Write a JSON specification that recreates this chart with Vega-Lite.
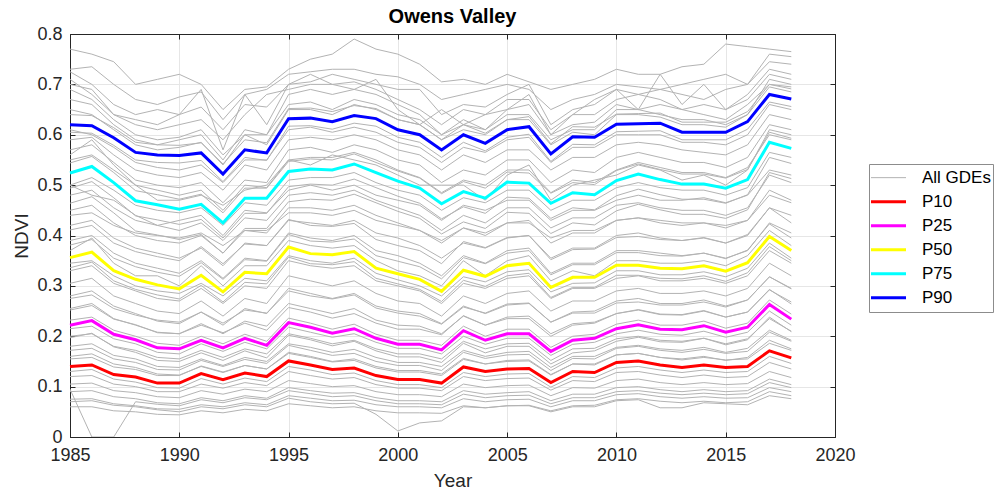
{
  "$schema": "https://vega.github.io/schema/vega-lite/v6.json",
  "width": 765,
  "height": 403,
  "autosize": {"type": "none"},
  "padding": {"left": 70, "top": 34, "right": 163, "bottom": 58},
  "background": "white",
  "title": {"text": "Owens Valley", "font": "Liberation Sans", "fontSize": 20, "fontWeight": "bold", "color": "black", "anchor": "middle", "offset": -2},
  "config": {
    "view": {"stroke": "#262626", "strokeWidth": 1},
    "axis": {"labelFont": "Liberation Sans", "labelFontSize": 18, "labelColor": "#262626", "labelFlush": false, "titleFont": "Liberation Sans", "titleFontSize": 19, "titleFontWeight": "normal", "titleColor": "#262626", "domainColor": "#262626", "tickColor": "#262626", "gridColor": "#e6e6e6", "grid": true},
    "legend": {"labelFont": "Liberation Sans", "labelFontSize": 17, "labelColor": "black"}
  },
  "datasets": {
    "pct": [
      {"year":1985,"P10":0.140,"P25":0.222,"P50":0.356,"P75":0.524,"P90":0.620},
      {"year":1986,"P10":0.143,"P25":0.231,"P50":0.367,"P75":0.537,"P90":0.618},
      {"year":1987,"P10":0.124,"P25":0.204,"P50":0.330,"P75":0.505,"P90":0.594},
      {"year":1988,"P10":0.119,"P25":0.193,"P50":0.313,"P75":0.469,"P90":0.565},
      {"year":1989,"P10":0.107,"P25":0.177,"P50":0.302,"P75":0.461,"P90":0.560},
      {"year":1990,"P10":0.107,"P25":0.175,"P50":0.294,"P75":0.452,"P90":0.559},
      {"year":1991,"P10":0.126,"P25":0.192,"P50":0.321,"P75":0.462,"P90":0.564},
      {"year":1992,"P10":0.114,"P25":0.177,"P50":0.288,"P75":0.425,"P90":0.522},
      {"year":1993,"P10":0.127,"P25":0.196,"P50":0.327,"P75":0.474,"P90":0.570},
      {"year":1994,"P10":0.120,"P25":0.182,"P50":0.324,"P75":0.474,"P90":0.564},
      {"year":1995,"P10":0.151,"P25":0.227,"P50":0.377,"P75":0.527,"P90":0.632},
      {"year":1996,"P10":0.143,"P25":0.218,"P50":0.364,"P75":0.532,"P90":0.633},
      {"year":1997,"P10":0.134,"P25":0.206,"P50":0.362,"P75":0.530,"P90":0.626},
      {"year":1998,"P10":0.137,"P25":0.215,"P50":0.368,"P75":0.542,"P90":0.638},
      {"year":1999,"P10":0.122,"P25":0.196,"P50":0.335,"P75":0.525,"P90":0.632},
      {"year":2000,"P10":0.114,"P25":0.184,"P50":0.324,"P75":0.508,"P90":0.610},
      {"year":2001,"P10":0.114,"P25":0.184,"P50":0.313,"P75":0.494,"P90":0.600},
      {"year":2002,"P10":0.107,"P25":0.173,"P50":0.289,"P75":0.463,"P90":0.570},
      {"year":2003,"P10":0.139,"P25":0.211,"P50":0.331,"P75":0.487,"P90":0.600},
      {"year":2004,"P10":0.130,"P25":0.192,"P50":0.319,"P75":0.474,"P90":0.583},
      {"year":2005,"P10":0.135,"P25":0.205,"P50":0.340,"P75":0.506,"P90":0.610},
      {"year":2006,"P10":0.136,"P25":0.205,"P50":0.345,"P75":0.504,"P90":0.616},
      {"year":2007,"P10":0.108,"P25":0.170,"P50":0.297,"P75":0.464,"P90":0.562},
      {"year":2008,"P10":0.130,"P25":0.192,"P50":0.317,"P75":0.485,"P90":0.596},
      {"year":2009,"P10":0.128,"P25":0.196,"P50":0.317,"P75":0.481,"P90":0.595},
      {"year":2010,"P10":0.148,"P25":0.215,"P50":0.341,"P75":0.509,"P90":0.621},
      {"year":2011,"P10":0.151,"P25":0.223,"P50":0.341,"P75":0.522,"P90":0.622},
      {"year":2012,"P10":0.143,"P25":0.214,"P50":0.335,"P75":0.511,"P90":0.623},
      {"year":2013,"P10":0.138,"P25":0.213,"P50":0.334,"P75":0.502,"P90":0.605},
      {"year":2014,"P10":0.143,"P25":0.221,"P50":0.340,"P75":0.502,"P90":0.605},
      {"year":2015,"P10":0.138,"P25":0.208,"P50":0.329,"P75":0.494,"P90":0.605},
      {"year":2016,"P10":0.140,"P25":0.218,"P50":0.346,"P75":0.511,"P90":0.626},
      {"year":2017,"P10":0.171,"P25":0.263,"P50":0.398,"P75":0.585,"P90":0.680},
      {"year":2018,"P10":0.157,"P25":0.234,"P50":0.370,"P75":0.573,"P90":0.671}
    ],
    "gray": [
      {"series":"All GDEs","year":1985,"g1":0.770,"g2":0.730,"g3":0.725,"g4":0.700,"g5":0.690,"g6":0.670,"g7":0.650,"g8":0.710,"g9":0.590,"g10":0.570,"g11":0.550,"g12":0.610,"g13":0.500,"g14":0.480,"g15":0.450,"g16":0.420,"g17":0.390,"g18":0.500,"g19":0.330,"g20":0.305,"g21":0.280,"g22":0.255,"g23":0.345,"g24":0.200,"g25":0.180,"g26":0.160,"g27":0.215,"g28":0.120,"g29":0.105,"g30":0.090,"g31":0.075,"g32":0.060,"g33":0.095,"g34":0.070,"g35":0.155,"g36":0.130,"g37":0.252,"g38":0.197,"g39":0.381,"g40":0.336,"g41":0.411,"g42":0.494,"g43":0.544,"g44":0.464,"g45":0.605,"g46":0.640,"g47":0.440,"g48":0.275,"g49":0.172,"g50":0.560,"g51":0.370,"g52":0.232},
      {"series":"All GDEs","year":1986,"g1":0.760,"g2":0.735,"g3":0.700,"g4":0.690,"g5":0.670,"g6":0.660,"g7":0.640,"g8":0.680,"g9":0.595,"g10":0.580,"g11":0.560,"g12":0.600,"g13":0.515,"g14":0.490,"g15":0.460,"g16":0.430,"g17":0.400,"g18":0.480,"g19":0.340,"g20":0.315,"g21":0.290,"g22":0.265,"g23":0.350,"g24":0.205,"g25":0.185,"g26":0.165,"g27":0.220,"g28":0.122,"g29":0.107,"g30":0.092,"g31":0.076,"g32":0.060,"g33":0.000,"g34":0.072,"g35":0.158,"g36":0.134,"g37":0.261,"g38":0.206,"g39":0.392,"g40":0.347,"g41":0.420,"g42":0.507,"g43":0.557,"g44":0.477,"g45":0.603,"g46":0.638,"g47":0.445,"g48":0.282,"g49":0.176,"g50":0.590,"g51":0.395,"g52":0.238},
      {"series":"All GDEs","year":1987,"g1":0.745,"g2":0.700,"g3":0.660,"g4":0.640,"g5":0.630,"g6":0.620,"g7":0.610,"g8":0.640,"g9":0.560,"g10":0.545,"g11":0.530,"g12":0.575,"g13":0.490,"g14":0.455,"g15":0.425,"g16":0.395,"g17":0.365,"g18":0.470,"g19":0.305,"g20":0.280,"g21":0.260,"g22":0.235,"g23":0.320,"g24":0.180,"g25":0.162,"g26":0.145,"g27":0.195,"g28":0.105,"g29":0.092,"g30":0.080,"g31":0.066,"g32":0.052,"g33":0.000,"g34":0.063,"g35":0.139,"g36":0.115,"g37":0.234,"g38":0.179,"g39":0.355,"g40":0.310,"g41":0.385,"g42":0.475,"g43":0.525,"g44":0.445,"g45":0.579,"g46":0.614,"g47":0.420,"g48":0.255,"g49":0.155,"g50":0.540,"g51":0.345,"g52":0.212},
      {"series":"All GDEs","year":1988,"g1":0.700,"g2":0.670,"g3":0.640,"g4":0.620,"g5":0.600,"g6":0.590,"g7":0.580,"g8":0.630,"g9":0.530,"g10":0.510,"g11":0.500,"g12":0.545,"g13":0.460,"g14":0.430,"g15":0.400,"g16":0.375,"g17":0.345,"g18":0.440,"g19":0.290,"g20":0.265,"g21":0.245,"g22":0.222,"g23":0.300,"g24":0.172,"g25":0.155,"g26":0.138,"g27":0.185,"g28":0.100,"g29":0.088,"g30":0.076,"g31":0.062,"g32":0.050,"g33":0.070,"g34":0.060,"g35":0.134,"g36":0.109,"g37":0.223,"g38":0.168,"g39":0.338,"g40":0.293,"g41":0.368,"g42":0.439,"g43":0.489,"g44":0.409,"g45":0.550,"g46":0.585,"g47":0.405,"g48":0.242,"g49":0.148,"g50":0.500,"g51":0.320,"g52":0.200},
      {"series":"All GDEs","year":1989,"g1":0.710,"g2":0.660,"g3":0.650,"g4":0.610,"g5":0.590,"g6":0.580,"g7":0.570,"g8":0.620,"g9":0.520,"g10":0.500,"g11":0.490,"g12":0.535,"g13":0.450,"g14":0.420,"g15":0.390,"g16":0.365,"g17":0.335,"g18":0.420,"g19":0.275,"g20":0.250,"g21":0.230,"g22":0.208,"g23":0.290,"g24":0.158,"g25":0.140,"g26":0.125,"g27":0.168,"g28":0.090,"g29":0.080,"g30":0.068,"g31":0.056,"g32":0.045,"g33":0.065,"g34":0.054,"g35":0.122,"g36":0.098,"g37":0.207,"g38":0.152,"g39":0.327,"g40":0.282,"g41":0.358,"g42":0.431,"g43":0.481,"g44":0.401,"g45":0.545,"g46":0.580,"g47":0.400,"g48":0.232,"g49":0.134,"g50":0.470,"g51":0.320,"g52":0.186},
      {"series":"All GDEs","year":1990,"g1":0.720,"g2":0.675,"g3":0.640,"g4":0.620,"g5":0.595,"g6":0.590,"g7":0.575,"g8":0.640,"g9":0.515,"g10":0.495,"g11":0.480,"g12":0.530,"g13":0.445,"g14":0.410,"g15":0.385,"g16":0.355,"g17":0.325,"g18":0.430,"g19":0.270,"g20":0.245,"g21":0.225,"g22":0.205,"g23":0.285,"g24":0.155,"g25":0.138,"g26":0.123,"g27":0.165,"g28":0.090,"g29":0.078,"g30":0.066,"g31":0.055,"g32":0.044,"g33":0.062,"g34":0.050,"g35":0.122,"g36":0.097,"g37":0.205,"g38":0.150,"g39":0.319,"g40":0.274,"g41":0.350,"g42":0.422,"g43":0.472,"g44":0.392,"g45":0.544,"g46":0.579,"g47":0.395,"g48":0.228,"g49":0.133,"g50":0.470,"g51":0.300,"g52":0.182},
      {"series":"All GDEs","year":1991,"g1":0.700,"g2":0.685,"g3":0.655,"g4":0.630,"g5":0.610,"g6":0.600,"g7":0.585,"g8":0.690,"g9":0.525,"g10":0.505,"g11":0.490,"g12":0.540,"g13":0.455,"g14":0.425,"g15":0.400,"g16":0.375,"g17":0.350,"g18":0.440,"g19":0.295,"g20":0.270,"g21":0.248,"g22":0.225,"g23":0.305,"g24":0.172,"g25":0.155,"g26":0.140,"g27":0.185,"g28":0.105,"g29":0.092,"g30":0.078,"g31":0.064,"g32":0.052,"g33":0.074,"g34":0.060,"g35":0.141,"g36":0.116,"g37":0.222,"g38":0.167,"g39":0.346,"g40":0.301,"g41":0.378,"g42":0.432,"g43":0.482,"g44":0.402,"g45":0.549,"g46":0.584,"g47":0.405,"g48":0.248,"g49":0.152,"g50":0.480,"g51":0.340,"g52":0.200},
      {"series":"All GDEs","year":1992,"g1":0.650,"g2":0.630,"g3":0.610,"g4":0.590,"g5":0.560,"g6":0.550,"g7":0.540,"g8":0.570,"g9":0.490,"g10":0.465,"g11":0.450,"g12":0.505,"g13":0.420,"g14":0.390,"g15":0.365,"g16":0.340,"g17":0.315,"g18":0.400,"g19":0.265,"g20":0.240,"g21":0.222,"g22":0.205,"g23":0.280,"g24":0.158,"g25":0.142,"g26":0.128,"g27":0.170,"g28":0.097,"g29":0.085,"g30":0.072,"g31":0.060,"g32":0.048,"g33":0.068,"g34":0.056,"g35":0.129,"g36":0.105,"g37":0.207,"g38":0.152,"g39":0.313,"g40":0.268,"g41":0.344,"g42":0.395,"g43":0.445,"g44":0.365,"g45":0.507,"g46":0.542,"g47":0.380,"g48":0.226,"g49":0.140,"g50":0.460,"g51":0.300,"g52":0.185},
      {"series":"All GDEs","year":1993,"g1":0.690,"g2":0.680,"g3":0.660,"g4":0.640,"g5":0.600,"g6":0.610,"g7":0.600,"g8":0.680,"g9":0.540,"g10":0.510,"g11":0.500,"g12":0.550,"g13":0.465,"g14":0.435,"g15":0.410,"g16":0.385,"g17":0.355,"g18":0.450,"g19":0.300,"g20":0.275,"g21":0.255,"g22":0.230,"g23":0.315,"g24":0.175,"g25":0.158,"g26":0.142,"g27":0.188,"g28":0.108,"g29":0.095,"g30":0.082,"g31":0.068,"g32":0.055,"g33":0.078,"g34":0.064,"g35":0.142,"g36":0.117,"g37":0.226,"g38":0.171,"g39":0.352,"g40":0.307,"g41":0.383,"g42":0.444,"g43":0.494,"g44":0.414,"g45":0.555,"g46":0.590,"g47":0.410,"g48":0.252,"g49":0.154,"g50":0.490,"g51":0.340,"g52":0.204},
      {"series":"All GDEs","year":1994,"g1":0.695,"g2":0.690,"g3":0.655,"g4":0.680,"g5":0.600,"g6":0.600,"g7":0.580,"g8":0.620,"g9":0.530,"g10":0.505,"g11":0.495,"g12":0.550,"g13":0.460,"g14":0.430,"g15":0.405,"g16":0.380,"g17":0.350,"g18":0.445,"g19":0.295,"g20":0.265,"g21":0.245,"g22":0.220,"g23":0.310,"g24":0.165,"g25":0.150,"g26":0.135,"g27":0.175,"g28":0.102,"g29":0.090,"g30":0.077,"g31":0.064,"g32":0.052,"g33":0.074,"g34":0.060,"g35":0.135,"g36":0.110,"g37":0.212,"g38":0.157,"g39":0.349,"g40":0.304,"g41":0.380,"g42":0.444,"g43":0.494,"g44":0.414,"g45":0.549,"g46":0.584,"g47":0.410,"g48":0.246,"g49":0.146,"g50":0.500,"g51":0.340,"g52":0.190},
      {"series":"All GDEs","year":1995,"g1":0.730,"g2":0.720,"g3":0.700,"g4":0.690,"g5":0.680,"g6":0.660,"g7":0.650,"g8":0.700,"g9":0.590,"g10":0.570,"g11":0.550,"g12":0.610,"g13":0.510,"g14":0.480,"g15":0.455,"g16":0.430,"g17":0.405,"g18":0.490,"g19":0.350,"g20":0.320,"g21":0.295,"g22":0.265,"g23":0.360,"g24":0.205,"g25":0.185,"g26":0.168,"g27":0.218,"g28":0.130,"g29":0.112,"g30":0.098,"g31":0.082,"g32":0.066,"g33":0.092,"g34":0.077,"g35":0.166,"g36":0.140,"g37":0.257,"g38":0.202,"g39":0.402,"g40":0.357,"g41":0.432,"g42":0.497,"g43":0.547,"g44":0.467,"g45":0.617,"g46":0.652,"g47":0.445,"g48":0.290,"g49":0.182,"g50":0.550,"g51":0.390,"g52":0.236},
      {"series":"All GDEs","year":1996,"g1":0.750,"g2":0.725,"g3":0.705,"g4":0.700,"g5":0.690,"g6":0.665,"g7":0.650,"g8":0.720,"g9":0.595,"g10":0.575,"g11":0.555,"g12":0.615,"g13":0.515,"g14":0.485,"g15":0.455,"g16":0.425,"g17":0.395,"g18":0.500,"g19":0.340,"g20":0.310,"g21":0.285,"g22":0.255,"g23":0.350,"g24":0.196,"g25":0.178,"g26":0.160,"g27":0.208,"g28":0.122,"g29":0.106,"g30":0.092,"g31":0.077,"g32":0.062,"g33":0.086,"g34":0.070,"g35":0.158,"g36":0.133,"g37":0.248,"g38":0.193,"g39":0.389,"g40":0.344,"g41":0.420,"g42":0.502,"g43":0.552,"g44":0.472,"g45":0.618,"g46":0.653,"g47":0.445,"g48":0.280,"g49":0.172,"g50":0.540,"g51":0.380,"g52":0.226},
      {"series":"All GDEs","year":1997,"g1":0.760,"g2":0.730,"g3":0.720,"g4":0.700,"g5":0.680,"g6":0.650,"g7":0.640,"g8":0.700,"g9":0.590,"g10":0.565,"g11":0.555,"g12":0.605,"g13":0.515,"g14":0.480,"g15":0.450,"g16":0.420,"g17":0.390,"g18":0.490,"g19":0.335,"g20":0.300,"g21":0.275,"g22":0.245,"g23":0.345,"g24":0.185,"g25":0.168,"g26":0.150,"g27":0.198,"g28":0.115,"g29":0.100,"g30":0.087,"g31":0.072,"g32":0.058,"g33":0.080,"g34":0.066,"g35":0.149,"g36":0.124,"g37":0.236,"g38":0.181,"g39":0.387,"g40":0.342,"g41":0.418,"g42":0.500,"g43":0.550,"g44":0.470,"g45":0.611,"g46":0.646,"g47":0.440,"g48":0.274,"g49":0.162,"g50":0.560,"g51":0.375,"g52":0.214},
      {"series":"All GDEs","year":1998,"g1":0.790,"g2":0.730,"g3":0.710,"g4":0.705,"g5":0.690,"g6":0.670,"g7":0.660,"g8":0.690,"g9":0.600,"g10":0.580,"g11":0.565,"g12":0.615,"g13":0.525,"g14":0.490,"g15":0.460,"g16":0.430,"g17":0.400,"g18":0.500,"g19":0.340,"g20":0.310,"g21":0.285,"g22":0.255,"g23":0.355,"g24":0.192,"g25":0.174,"g26":0.155,"g27":0.205,"g28":0.118,"g29":0.102,"g30":0.088,"g31":0.073,"g32":0.060,"g33":0.082,"g34":0.067,"g35":0.152,"g36":0.127,"g37":0.245,"g38":0.190,"g39":0.393,"g40":0.348,"g41":0.424,"g42":0.512,"g43":0.562,"g44":0.482,"g45":0.623,"g46":0.658,"g47":0.450,"g48":0.282,"g49":0.166,"g50":0.550,"g51":0.380,"g52":0.224},
      {"series":"All GDEs","year":1999,"g1":0.770,"g2":0.720,"g3":0.700,"g4":0.690,"g5":0.680,"g6":0.660,"g7":0.650,"g8":0.710,"g9":0.590,"g10":0.570,"g11":0.550,"g12":0.605,"g13":0.505,"g14":0.470,"g15":0.440,"g16":0.405,"g17":0.370,"g18":0.480,"g19":0.310,"g20":0.285,"g21":0.260,"g22":0.232,"g23":0.325,"g24":0.175,"g25":0.158,"g26":0.140,"g27":0.188,"g28":0.104,"g29":0.090,"g30":0.078,"g31":0.064,"g32":0.052,"g33":0.072,"g34":0.045,"g35":0.137,"g36":0.112,"g37":0.226,"g38":0.171,"g39":0.360,"g40":0.315,"g41":0.392,"g42":0.495,"g43":0.545,"g44":0.465,"g45":0.617,"g46":0.652,"g47":0.430,"g48":0.256,"g49":0.150,"g50":0.540,"g51":0.350,"g52":0.204},
      {"series":"All GDEs","year":2000,"g1":0.760,"g2":0.715,"g3":0.690,"g4":0.670,"g5":0.660,"g6":0.640,"g7":0.630,"g8":0.650,"g9":0.570,"g10":0.550,"g11":0.530,"g12":0.585,"g13":0.490,"g14":0.455,"g15":0.425,"g16":0.395,"g17":0.360,"g18":0.470,"g19":0.300,"g20":0.270,"g21":0.250,"g22":0.222,"g23":0.312,"g24":0.165,"g25":0.148,"g26":0.132,"g27":0.176,"g28":0.097,"g29":0.084,"g30":0.072,"g31":0.060,"g32":0.048,"g33":0.066,"g34":0.012,"g35":0.129,"g36":0.104,"g37":0.214,"g38":0.159,"g39":0.349,"g40":0.304,"g41":0.380,"g42":0.478,"g43":0.528,"g44":0.448,"g45":0.595,"g46":0.630,"g47":0.420,"g48":0.246,"g49":0.142,"g50":0.520,"g51":0.330,"g52":0.192},
      {"series":"All GDEs","year":2001,"g1":0.740,"g2":0.700,"g3":0.690,"g4":0.650,"g5":0.640,"g6":0.630,"g7":0.620,"g8":0.620,"g9":0.560,"g10":0.540,"g11":0.515,"g12":0.575,"g13":0.480,"g14":0.440,"g15":0.410,"g16":0.380,"g17":0.345,"g18":0.460,"g19":0.290,"g20":0.265,"g21":0.245,"g22":0.220,"g23":0.300,"g24":0.165,"g25":0.148,"g26":0.132,"g27":0.176,"g28":0.097,"g29":0.084,"g30":0.072,"g31":0.060,"g32":0.048,"g33":0.066,"g34":0.028,"g35":0.129,"g36":0.104,"g37":0.214,"g38":0.159,"g39":0.338,"g40":0.293,"g41":0.370,"g42":0.464,"g43":0.514,"g44":0.434,"g45":0.585,"g46":0.620,"g47":0.410,"g48":0.240,"g49":0.142,"g50":0.500,"g51":0.320,"g52":0.192},
      {"series":"All GDEs","year":2002,"g1":0.705,"g2":0.670,"g3":0.640,"g4":0.620,"g5":0.600,"g6":0.600,"g7":0.590,"g8":0.650,"g9":0.530,"g10":0.505,"g11":0.485,"g12":0.545,"g13":0.450,"g14":0.410,"g15":0.385,"g16":0.355,"g17":0.320,"g18":0.430,"g19":0.265,"g20":0.240,"g21":0.225,"g22":0.205,"g23":0.280,"g24":0.155,"g25":0.140,"g26":0.125,"g27":0.165,"g28":0.092,"g29":0.080,"g30":0.070,"g31":0.058,"g32":0.047,"g33":0.064,"g34":0.032,"g35":0.122,"g36":0.098,"g37":0.203,"g38":0.148,"g39":0.314,"g40":0.269,"g41":0.344,"g42":0.433,"g43":0.483,"g44":0.403,"g45":0.555,"g46":0.590,"g47":0.390,"g48":0.224,"g49":0.132,"g50":0.500,"g51":0.300,"g52":0.182},
      {"series":"All GDEs","year":2003,"g1":0.710,"g2":0.680,"g3":0.660,"g4":0.650,"g5":0.630,"g6":0.620,"g7":0.610,"g8":0.620,"g9":0.560,"g10":0.530,"g11":0.510,"g12":0.575,"g13":0.475,"g14":0.440,"g15":0.415,"g16":0.385,"g17":0.360,"g18":0.460,"g19":0.305,"g20":0.280,"g21":0.260,"g22":0.240,"g23":0.318,"g24":0.190,"g25":0.172,"g26":0.156,"g27":0.200,"g28":0.120,"g29":0.105,"g30":0.092,"g31":0.076,"g32":0.062,"g33":0.085,"g34":0.060,"g35":0.154,"g36":0.128,"g37":0.241,"g38":0.186,"g39":0.356,"g40":0.311,"g41":0.388,"g42":0.457,"g43":0.507,"g44":0.427,"g45":0.585,"g46":0.620,"g47":0.415,"g48":0.258,"g49":0.168,"g50":0.500,"g51":0.350,"g52":0.220},
      {"series":"All GDEs","year":2004,"g1":0.700,"g2":0.690,"g3":0.655,"g4":0.640,"g5":0.610,"g6":0.610,"g7":0.600,"g8":0.640,"g9":0.545,"g10":0.520,"g11":0.500,"g12":0.565,"g13":0.465,"g14":0.425,"g15":0.400,"g16":0.375,"g17":0.345,"g18":0.450,"g19":0.295,"g20":0.265,"g21":0.245,"g22":0.222,"g23":0.308,"g24":0.175,"g25":0.160,"g26":0.145,"g27":0.184,"g28":0.112,"g29":0.098,"g30":0.085,"g31":0.070,"g32":0.058,"g33":0.078,"g34":0.058,"g35":0.145,"g36":0.120,"g37":0.222,"g38":0.167,"g39":0.344,"g40":0.299,"g41":0.376,"g42":0.444,"g43":0.494,"g44":0.414,"g45":0.568,"g46":0.603,"g47":0.405,"g48":0.246,"g49":0.156,"g50":0.470,"g51":0.320,"g52":0.200},
      {"series":"All GDEs","year":2005,"g1":0.720,"g2":0.700,"g3":0.680,"g4":0.670,"g5":0.650,"g6":0.640,"g7":0.630,"g8":0.650,"g9":0.570,"g10":0.550,"g11":0.530,"g12":0.590,"g13":0.490,"g14":0.455,"g15":0.425,"g16":0.395,"g17":0.370,"g18":0.470,"g19":0.315,"g20":0.285,"g21":0.262,"g22":0.238,"g23":0.328,"g24":0.185,"g25":0.168,"g26":0.152,"g27":0.196,"g28":0.116,"g29":0.102,"g30":0.088,"g31":0.074,"g32":0.062,"g33":0.082,"g34":0.062,"g35":0.150,"g36":0.125,"g37":0.235,"g38":0.180,"g39":0.365,"g40":0.320,"g41":0.396,"g42":0.476,"g43":0.526,"g44":0.446,"g45":0.595,"g46":0.630,"g47":0.425,"g48":0.264,"g49":0.163,"g50":0.520,"g51":0.350,"g52":0.214},
      {"series":"All GDEs","year":2006,"g1":0.705,"g2":0.690,"g3":0.700,"g4":0.670,"g5":0.660,"g6":0.640,"g7":0.630,"g8":0.680,"g9":0.570,"g10":0.550,"g11":0.530,"g12":0.595,"g13":0.490,"g14":0.455,"g15":0.430,"g16":0.400,"g17":0.375,"g18":0.470,"g19":0.320,"g20":0.290,"g21":0.265,"g22":0.240,"g23":0.332,"g24":0.186,"g25":0.170,"g26":0.153,"g27":0.196,"g28":0.117,"g29":0.103,"g30":0.090,"g31":0.075,"g32":0.062,"g33":0.083,"g34":0.063,"g35":0.151,"g36":0.126,"g37":0.235,"g38":0.180,"g39":0.370,"g40":0.325,"g41":0.400,"g42":0.474,"g43":0.524,"g44":0.444,"g45":0.601,"g46":0.636,"g47":0.425,"g48":0.266,"g49":0.164,"g50":0.540,"g51":0.360,"g52":0.214},
      {"series":"All GDEs","year":2007,"g1":0.690,"g2":0.650,"g3":0.620,"g4":0.610,"g5":0.600,"g6":0.590,"g7":0.580,"g8":0.600,"g9":0.530,"g10":0.505,"g11":0.485,"g12":0.545,"g13":0.450,"g14":0.415,"g15":0.385,"g16":0.355,"g17":0.325,"g18":0.430,"g19":0.275,"g20":0.250,"g21":0.228,"g22":0.205,"g23":0.288,"g24":0.152,"g25":0.138,"g26":0.124,"g27":0.162,"g28":0.093,"g29":0.082,"g30":0.072,"g31":0.060,"g32":0.050,"g33":0.066,"g34":0.052,"g35":0.123,"g36":0.099,"g37":0.200,"g38":0.145,"g39":0.322,"g40":0.277,"g41":0.352,"g42":0.434,"g43":0.484,"g44":0.404,"g45":0.547,"g46":0.582,"g47":0.395,"g48":0.228,"g49":0.132,"g50":0.470,"g51":0.310,"g52":0.178},
      {"series":"All GDEs","year":2008,"g1":0.700,"g2":0.670,"g3":0.650,"g4":0.640,"g5":0.620,"g6":0.610,"g7":0.605,"g8":0.640,"g9":0.555,"g10":0.530,"g11":0.510,"g12":0.575,"g13":0.470,"g14":0.435,"g15":0.405,"g16":0.375,"g17":0.345,"g18":0.450,"g19":0.295,"g20":0.270,"g21":0.248,"g22":0.225,"g23":0.305,"g24":0.175,"g25":0.160,"g26":0.145,"g27":0.184,"g28":0.112,"g29":0.098,"g30":0.085,"g31":0.072,"g32":0.060,"g33":0.078,"g34":0.062,"g35":0.145,"g36":0.120,"g37":0.222,"g38":0.167,"g39":0.342,"g40":0.297,"g41":0.372,"g42":0.455,"g43":0.505,"g44":0.425,"g45":0.581,"g46":0.616,"g47":0.410,"g48":0.246,"g49":0.156,"g50":0.500,"g51":0.330,"g52":0.200},
      {"series":"All GDEs","year":2009,"g1":0.710,"g2":0.680,"g3":0.660,"g4":0.640,"g5":0.625,"g6":0.610,"g7":0.600,"g8":0.670,"g9":0.555,"g10":0.525,"g11":0.505,"g12":0.575,"g13":0.470,"g14":0.435,"g15":0.405,"g16":0.375,"g17":0.345,"g18":0.450,"g19":0.295,"g20":0.270,"g21":0.250,"g22":0.228,"g23":0.306,"g24":0.176,"g25":0.160,"g26":0.145,"g27":0.188,"g28":0.110,"g29":0.097,"g30":0.085,"g31":0.072,"g32":0.060,"g33":0.078,"g34":0.063,"g35":0.143,"g36":0.118,"g37":0.226,"g38":0.171,"g39":0.342,"g40":0.297,"g41":0.373,"g42":0.451,"g43":0.501,"g44":0.421,"g45":0.580,"g46":0.615,"g47":0.410,"g48":0.246,"g49":0.155,"g50":0.510,"g51":0.320,"g52":0.204},
      {"series":"All GDEs","year":2010,"g1":0.730,"g2":0.700,"g3":0.690,"g4":0.670,"g5":0.660,"g6":0.650,"g7":0.640,"g8":0.690,"g9":0.580,"g10":0.555,"g11":0.530,"g12":0.600,"g13":0.495,"g14":0.460,"g15":0.430,"g16":0.400,"g17":0.370,"g18":0.470,"g19":0.315,"g20":0.290,"g21":0.270,"g22":0.245,"g23":0.330,"g24":0.195,"g25":0.178,"g26":0.163,"g27":0.205,"g28":0.128,"g29":0.112,"g30":0.098,"g31":0.084,"g32":0.072,"g33":0.090,"g34":0.074,"g35":0.163,"g36":0.137,"g37":0.245,"g38":0.190,"g39":0.366,"g40":0.321,"g41":0.396,"g42":0.479,"g43":0.529,"g44":0.449,"g45":0.606,"g46":0.641,"g47":0.430,"g48":0.266,"g49":0.176,"g50":0.520,"g51":0.350,"g52":0.224},
      {"series":"All GDEs","year":2011,"g1":0.720,"g2":0.695,"g3":0.680,"g4":0.680,"g5":0.650,"g6":0.650,"g7":0.640,"g8":0.650,"g9":0.585,"g10":0.565,"g11":0.545,"g12":0.600,"g13":0.505,"g14":0.465,"g15":0.435,"g16":0.405,"g17":0.370,"g18":0.480,"g19":0.320,"g20":0.295,"g21":0.275,"g22":0.252,"g23":0.330,"g24":0.200,"g25":0.182,"g26":0.166,"g27":0.212,"g28":0.130,"g29":0.115,"g30":0.100,"g31":0.086,"g32":0.074,"g33":0.092,"g34":0.076,"g35":0.166,"g36":0.140,"g37":0.253,"g38":0.198,"g39":0.366,"g40":0.321,"g41":0.398,"g42":0.492,"g43":0.542,"g44":0.462,"g45":0.607,"g46":0.642,"g47":0.435,"g48":0.268,"g49":0.180,"g50":0.540,"g51":0.350,"g52":0.232},
      {"series":"All GDEs","year":2012,"g1":0.720,"g2":0.690,"g3":0.690,"g4":0.670,"g5":0.660,"g6":0.640,"g7":0.635,"g8":0.720,"g9":0.580,"g10":0.555,"g11":0.535,"g12":0.600,"g13":0.495,"g14":0.455,"g15":0.425,"g16":0.395,"g17":0.365,"g18":0.470,"g19":0.310,"g20":0.285,"g21":0.265,"g22":0.243,"g23":0.322,"g24":0.192,"g25":0.175,"g26":0.158,"g27":0.204,"g28":0.123,"g29":0.108,"g30":0.094,"g31":0.080,"g32":0.058,"g33":0.087,"g34":0.071,"g35":0.158,"g36":0.133,"g37":0.244,"g38":0.189,"g39":0.360,"g40":0.315,"g41":0.392,"g42":0.481,"g43":0.531,"g44":0.451,"g45":0.608,"g46":0.643,"g47":0.430,"g48":0.262,"g49":0.172,"g50":0.530,"g51":0.345,"g52":0.222},
      {"series":"All GDEs","year":2013,"g1":0.735,"g2":0.700,"g3":0.680,"g4":0.650,"g5":0.650,"g6":0.630,"g7":0.620,"g8":0.660,"g9":0.570,"g10":0.545,"g11":0.525,"g12":0.585,"g13":0.490,"g14":0.450,"g15":0.420,"g16":0.390,"g17":0.360,"g18":0.470,"g19":0.310,"g20":0.285,"g21":0.265,"g22":0.242,"g23":0.322,"g24":0.190,"g25":0.172,"g26":0.155,"g27":0.202,"g28":0.118,"g29":0.104,"g30":0.090,"g31":0.077,"g32":0.058,"g33":0.084,"g34":0.068,"g35":0.153,"g36":0.128,"g37":0.243,"g38":0.188,"g39":0.359,"g40":0.314,"g41":0.390,"g42":0.472,"g43":0.522,"g44":0.442,"g45":0.590,"g46":0.625,"g47":0.425,"g48":0.262,"g49":0.168,"g50":0.510,"g51":0.345,"g52":0.222},
      {"series":"All GDEs","year":2014,"g1":0.740,"g2":0.710,"g3":0.670,"g4":0.660,"g5":0.640,"g6":0.630,"g7":0.620,"g8":0.700,"g9":0.565,"g10":0.545,"g11":0.525,"g12":0.585,"g13":0.490,"g14":0.450,"g15":0.425,"g16":0.395,"g17":0.365,"g18":0.475,"g19":0.315,"g20":0.290,"g21":0.272,"g22":0.250,"g23":0.328,"g24":0.196,"g25":0.178,"g26":0.160,"g27":0.210,"g28":0.123,"g29":0.108,"g30":0.094,"g31":0.080,"g32":0.068,"g33":0.087,"g34":0.071,"g35":0.158,"g36":0.133,"g37":0.251,"g38":0.196,"g39":0.365,"g40":0.320,"g41":0.396,"g42":0.472,"g43":0.522,"g44":0.442,"g45":0.590,"g46":0.625,"g47":0.425,"g48":0.268,"g49":0.174,"g50":0.520,"g51":0.350,"g52":0.230},
      {"series":"All GDEs","year":2015,"g1":0.780,"g2":0.720,"g3":0.690,"g4":0.650,"g5":0.630,"g6":0.620,"g7":0.615,"g8":0.650,"g9":0.560,"g10":0.535,"g11":0.515,"g12":0.580,"g13":0.480,"g14":0.440,"g15":0.415,"g16":0.385,"g17":0.355,"g18":0.465,"g19":0.305,"g20":0.280,"g21":0.260,"g22":0.238,"g23":0.318,"g24":0.185,"g25":0.168,"g26":0.152,"g27":0.198,"g28":0.118,"g29":0.104,"g30":0.090,"g31":0.077,"g32":0.066,"g33":0.084,"g34":0.068,"g35":0.153,"g36":0.128,"g37":0.238,"g38":0.183,"g39":0.354,"g40":0.309,"g41":0.385,"g42":0.464,"g43":0.514,"g44":0.434,"g45":0.590,"g46":0.625,"g47":0.420,"g48":0.258,"g49":0.166,"g50":0.500,"g51":0.340,"g52":0.216},
      {"series":"All GDEs","year":2016,"g1":0.775,"g2":0.700,"g3":0.700,"g4":0.670,"g5":0.660,"g6":0.640,"g7":0.640,"g8":0.680,"g9":0.580,"g10":0.555,"g11":0.535,"g12":0.600,"g13":0.495,"g14":0.455,"g15":0.430,"g16":0.400,"g17":0.370,"g18":0.480,"g19":0.320,"g20":0.295,"g21":0.272,"g22":0.248,"g23":0.335,"g24":0.195,"g25":0.176,"g26":0.158,"g27":0.208,"g28":0.120,"g29":0.106,"g30":0.092,"g31":0.078,"g32":0.064,"g33":0.086,"g34":0.070,"g35":0.155,"g36":0.130,"g37":0.248,"g38":0.193,"g39":0.371,"g40":0.326,"g41":0.402,"g42":0.481,"g43":0.531,"g44":0.451,"g45":0.611,"g46":0.646,"g47":0.430,"g48":0.272,"g49":0.170,"g50":0.530,"g51":0.360,"g52":0.226},
      {"series":"All GDEs","year":2017,"g1":0.770,"g2":0.760,"g3":0.745,"g4":0.720,"g5":0.700,"g6":0.710,"g7":0.695,"g8":0.730,"g9":0.640,"g10":0.620,"g11":0.600,"g12":0.660,"g13":0.565,"g14":0.520,"g15":0.490,"g16":0.455,"g17":0.425,"g18":0.530,"g19":0.370,"g20":0.345,"g21":0.318,"g22":0.292,"g23":0.385,"g24":0.235,"g25":0.212,"g26":0.192,"g27":0.250,"g28":0.148,"g29":0.130,"g30":0.115,"g31":0.098,"g32":0.082,"g33":0.108,"g34":0.090,"g35":0.186,"g36":0.160,"g37":0.293,"g38":0.238,"g39":0.423,"g40":0.378,"g41":0.455,"g42":0.555,"g43":0.605,"g44":0.525,"g45":0.665,"g46":0.700,"g47":0.480,"g48":0.318,"g49":0.208,"g50":0.610,"g51":0.410,"g52":0.272},
      {"series":"All GDEs","year":2018,"g1":0.765,"g2":0.755,"g3":0.740,"g4":0.710,"g5":0.695,"g6":0.700,"g7":0.685,"g8":0.720,"g9":0.630,"g10":0.610,"g11":0.590,"g12":0.650,"g13":0.555,"g14":0.505,"g15":0.470,"g16":0.440,"g17":0.405,"g18":0.520,"g19":0.345,"g20":0.320,"g21":0.295,"g22":0.268,"g23":0.355,"g24":0.210,"g25":0.192,"g26":0.175,"g27":0.222,"g28":0.135,"g29":0.118,"g30":0.104,"g31":0.090,"g32":0.076,"g33":0.098,"g34":0.082,"g35":0.172,"g36":0.146,"g37":0.264,"g38":0.209,"g39":0.395,"g40":0.350,"g41":0.425,"g42":0.543,"g43":0.593,"g44":0.513,"g45":0.656,"g46":0.691,"g47":0.465,"g48":0.294,"g49":0.190,"g50":0.600,"g51":0.380,"g52":0.244}
    ]
  },
  "layer": [
    {
      "data": {"name": "gray"},
      "transform": [{"fold": ["g1","g2","g3","g4","g5","g6","g7","g8","g9","g10","g11","g12","g13","g14","g15","g16","g17","g18","g19","g20","g21","g22","g23","g24","g25","g26","g27","g28","g29","g30","g31","g32","g33","g34","g35","g36","g37","g38","g39","g40","g41","g42","g43","g44","g45","g46","g47","g48","g49","g50","g51","g52"], "as": ["gde", "ndvi"]}],
      "mark": {"type": "line", "clip": true, "strokeWidth": 1},
      "encoding": {
        "x": {"field": "year", "type": "quantitative", "scale": {"domain": [1985, 2020], "nice": false}, "axis": {"title": "Year", "values": [1985,1990,1995,2000,2005,2010,2015,2020], "format": "d", "tickSize": -5, "labelPadding": 14, "titlePadding": 7}},
        "y": {"field": "ndvi", "type": "quantitative", "scale": {"domain": [0, 0.8], "nice": false}, "axis": {"title": "NDVI", "values": [0,0.1,0.2,0.3,0.4,0.5,0.6,0.7,0.8], "format": "~g", "tickSize": -5, "labelPadding": 13, "titlePadding": 5}},
        "detail": {"field": "gde"},
        "color": {"field": "series", "type": "nominal", "scale": {"domain": ["All GDEs","P10","P25","P50","P75","P90"], "range": ["#b3b3b3","#ff0000","#ff00ff","#ffff00","#00ffff","#0000ff"]}, "legend": {"title": null, "orient": "none", "legendX": 799, "legendY": 130, "symbolType": "stroke", "symbolSize": 2209, "symbolStrokeWidth": 3, "clipHeight": 23.3, "rowPadding": 0, "symbolOffset": 3, "strokeColor": "#8c8c8c", "fillColor": "white", "padding": 2, "labelOffset": 31, "encode": {"symbols": {"update": {"strokeWidth": {"signal": "datum.value == 'All GDEs' ? 1 : 3"}}}}}}
      }
    },
    {
      "data": {"name": "pct"},
      "transform": [{"fold": ["P10","P25","P50","P75","P90"], "as": ["series", "ndvi"]}],
      "mark": {"type": "line", "strokeWidth": 3},
      "encoding": {
        "x": {"field": "year", "type": "quantitative", "axis": {"orient": "top", "title": null, "labels": false, "values": [1985,1990,1995,2000,2005,2010,2015,2020], "tickSize": -5, "grid": false}},
        "y": {"field": "ndvi", "type": "quantitative", "axis": {"orient": "right", "title": null, "labels": false, "values": [0,0.1,0.2,0.3,0.4,0.5,0.6,0.7,0.8], "tickSize": -5, "grid": false}},
        "color": {"field": "series", "type": "nominal"}
      }
    }
  ],
  "resolve": {"axis": {"x": "independent", "y": "independent"}}
}
